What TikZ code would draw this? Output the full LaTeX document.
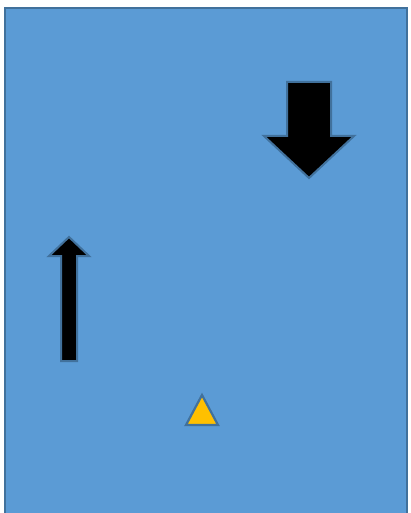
\documentclass[tikz,border=0pt]{standalone}
\usepackage{xcolor}
\definecolor{panelblue}{HTML}{5B9BD5}
\definecolor{edgeblue}{HTML}{41719C}
\definecolor{markgold}{HTML}{FFC000}

\begin{document}
\begin{tikzpicture}[x=1pt,y=-1pt,
    arrowshape/.style={fill=black,draw=edgeblue,line width=2pt,line join=miter},
    markshape/.style={fill=markgold,draw=edgeblue,line width=2.2pt,line join=miter}]
  \useasboundingbox (0,0) rectangle (410,513);
  \clip (0,0) rectangle (410,513);
  \fill[white] (0,0) rectangle (410,513);
  \draw[fill=panelblue,draw=edgeblue,line width=2pt] (5,8) rectangle (407,520);
  % downward arrow
  \draw[arrowshape] (287,82) -- (331,82) -- (331,136) -- (354,136) -- (309,178)
    -- (264,136) -- (287,136) -- cycle;
  % upward arrow
  \draw[arrowshape] (61,361) -- (77,361) -- (77,256) -- (89,256) -- (69,237)
    -- (49,256) -- (61,256) -- cycle;
  % small triangle
  \draw[markshape] (202,395) -- (218,425) -- (186,425) -- cycle;
\end{tikzpicture}
\end{document}
